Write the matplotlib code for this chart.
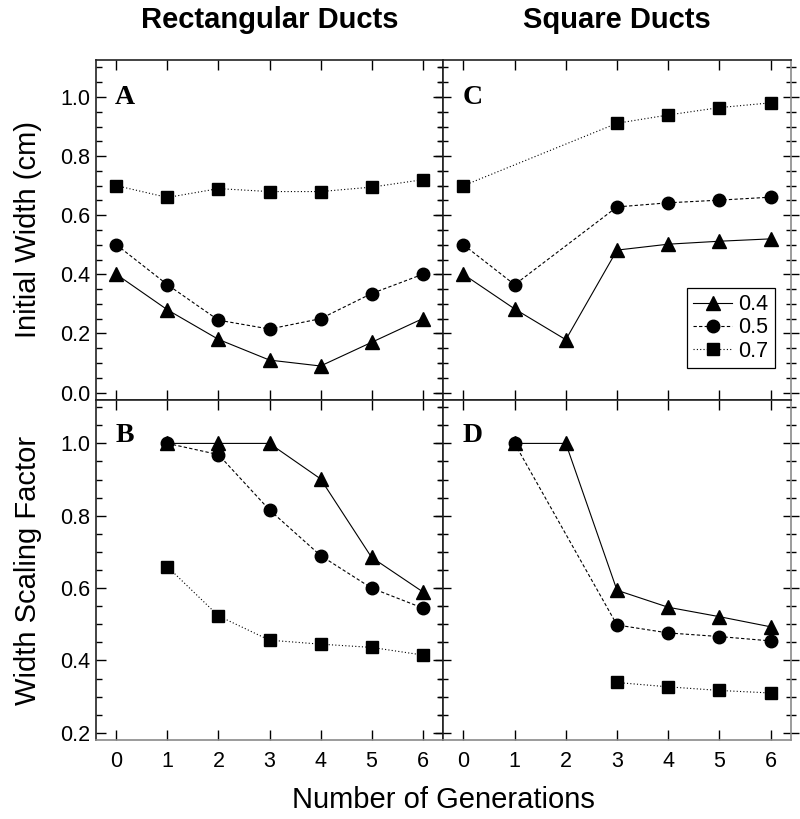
import matplotlib
matplotlib.use("Agg")
import matplotlib.pyplot as plt
from matplotlib.ticker import MultipleLocator, FormatStrFormatter

plt.rcParams['font.family'] = ['Liberation Sans', 'DejaVu Sans']

series_labels = ['0.4', '0.5', '0.7']

# Panel A: Rectangular ducts, initial width (cm)
A_x = {'0.4': [0, 1, 2, 3, 4, 5, 6], '0.5': [0, 1, 2, 3, 4, 5, 6], '0.7': [0, 1, 2, 3, 4, 5, 6]}
A_y = {
    '0.4': [0.40, 0.28, 0.18, 0.11, 0.09, 0.17, 0.25],
    '0.5': [0.50, 0.365, 0.245, 0.215, 0.25, 0.335, 0.40],
    '0.7': [0.70, 0.66, 0.69, 0.68, 0.68, 0.695, 0.72],
}
# Panel C: Square ducts, initial width (cm)
C_x = {'0.4': [0, 1, 2, 3, 4, 5, 6], '0.5': [0, 1, 3, 4, 5, 6], '0.7': [0, 3, 4, 5, 6]}
C_y = {
    '0.4': [0.40, 0.283, 0.179, 0.482, 0.502, 0.512, 0.52],
    '0.5': [0.50, 0.365, 0.628, 0.642, 0.651, 0.661],
    '0.7': [0.70, 0.911, 0.939, 0.964, 0.98],
}
# Panel B: Rectangular ducts, width scaling factor
B_x = {'0.4': [1, 2, 3, 4, 5, 6], '0.5': [1, 2, 3, 4, 5, 6], '0.7': [1, 2, 3, 4, 5, 6]}
B_y = {
    '0.4': [1.0, 1.0, 1.0, 0.902, 0.685, 0.59],
    '0.5': [1.0, 0.969, 0.816, 0.69, 0.60, 0.545],
    '0.7': [0.659, 0.523, 0.456, 0.445, 0.436, 0.415],
}
# Panel D: Square ducts, width scaling factor
D_x = {'0.4': [1, 2, 3, 4, 5, 6], '0.5': [1, 3, 4, 5, 6], '0.7': [3, 4, 5, 6]}
D_y = {
    '0.4': [1.0, 1.0, 0.594, 0.547, 0.521, 0.493],
    '0.5': [1.0, 0.498, 0.476, 0.466, 0.454],
    '0.7': [0.339, 0.327, 0.317, 0.31],
}

styles = {
    '0.4': dict(marker='^', linestyle='-', markersize=9.5),
    '0.5': dict(marker='o', linestyle=(0, (3, 2)), markersize=9),
    '0.7': dict(marker='s', linestyle=(0, (1, 2)), markersize=8.5),
}

W, H = 800, 819
fig = plt.figure(figsize=(W / 100, H / 100), dpi=100)
L, M, R = 96 / W, 443 / W, 791 / W
T, Mid, B = 1 - 60 / H, 1 - 400 / H, 1 - 740 / H
axA = fig.add_axes([L, Mid, M - L, T - Mid])
axC = fig.add_axes([M, Mid, R - M, T - Mid])
axB = fig.add_axes([L, B, M - L, Mid - B])
axD = fig.add_axes([M, B, R - M, Mid - B])

dark = '#222222'
gray = '#8a8a8a'
for ax, xs, ys, letter in [(axA, A_x, A_y, 'A'), (axC, C_x, C_y, 'C'),
                           (axB, B_x, B_y, 'B'), (axD, D_x, D_y, 'D')]:
    for lab in series_labels:
        ax.plot(xs[lab], ys[lab], color='black', linewidth=0.8,
                markerfacecolor='black', markeredgecolor='black', label=lab,
                **styles[lab])
    ax.set_xlim(-0.4, 6.4)
    ax.xaxis.set_major_locator(MultipleLocator(1))
    ax.tick_params(axis='both', which='both', direction='in', top=True, right=True,
                   labelsize=15.5, colors='black', width=1.0)
    ax.tick_params(axis='both', which='major', length=7)
    ax.tick_params(axis='y', which='minor', length=4)
    ax.yaxis.set_minor_locator(MultipleLocator(0.05))
    for s in ax.spines.values():
        s.set_color(dark)
        s.set_linewidth(1.2)
    ax.text(0.055, 0.89 if letter in 'AC' else 0.897, letter, transform=ax.transAxes,
            fontsize=20, fontweight='bold', family=['Liberation Serif'],
            va='center', ha='left')

for ax in (axB, axD):
    ax.spines['bottom'].set_color(gray)
for ax in (axC, axD):
    ax.spines['right'].set_color(gray)

for ax in (axA, axC):
    ax.set_ylim(-0.025, 1.125)
    ax.yaxis.set_major_locator(MultipleLocator(0.2))
    ax.tick_params(labelbottom=False)
for ax in (axB, axD):
    ax.set_ylim(0.18, 1.12)
    ax.yaxis.set_major_locator(MultipleLocator(0.2))
    ax.tick_params(axis='x', pad=8)
for ax in (axC, axD):
    ax.tick_params(labelleft=False)
    ax.tick_params(axis='y', which='both', direction='inout')
    ax.tick_params(axis='y', which='major', length=12)
    ax.tick_params(axis='y', which='minor', length=7)
for ax in (axA, axB):
    ax.yaxis.set_major_formatter(FormatStrFormatter('%.1f'))
    ax.tick_params(axis='y', pad=4)

axA.set_ylabel('Initial Width (cm)', fontsize=21, labelpad=13)
axB.set_ylabel('Width Scaling Factor', fontsize=21, labelpad=13)
fig.text((L + R) / 2, 1 - 800 / H, 'Number of Generations', fontsize=21,
         ha='center', va='center')
fig.text((L + M) / 2, 1 - 20 / H, 'Rectangular Ducts', fontsize=21,
         fontweight='bold', ha='center', va='center')
fig.text((M + R) / 2, 1 - 20 / H, 'Square Ducts', fontsize=21,
         fontweight='bold', ha='center', va='center')

leg = axC.legend(loc='lower right', bbox_to_anchor=(0.954, 0.094), fontsize=15.5,
                 frameon=True, fancybox=False, edgecolor='black', framealpha=1,
                 handlelength=1.8, handletextpad=0.3, borderpad=0.3,
                 labelspacing=0.1, borderaxespad=0)
leg.get_frame().set_linewidth(0.9)

fig.savefig('out.png', dpi=100)
